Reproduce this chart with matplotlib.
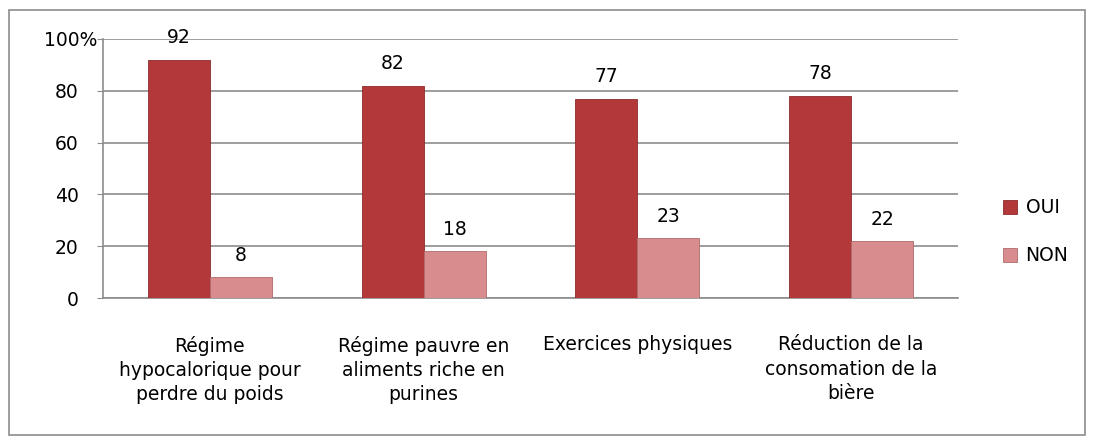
import numpy as np
import matplotlib
matplotlib.use("Agg")
import matplotlib.pyplot as plt
import matplotlib.transforms as mtransforms
from matplotlib.patches import Rectangle

categories = ["Régime\nhypocalorique pour\nperdre du poids",
              "Régime pauvre en\naliments riche en\npurines",
              "Exercices physiques",
              "Réduction de la\nconsomation de la\nbière"]
oui = [92, 82, 77, 78]
non = [8, 18, 23, 22]
series_names = ["OUI", "NON"]
yticks = [0, 20, 40, 60, 80, 100]
ytick_labels = ["0", "20", "40", "60", "80", "100%"]

plt.rcParams['font.family'] = ['DejaVu Sans']
fs = 13.5

fig = plt.figure(figsize=(10.93, 4.42), dpi=100)
# outer chart border
fig.patches.append(Rectangle((9/1093, 7/442), 1076/1093, 425/442, transform=fig.transFigure,
                             fill=False, edgecolor="#8c8c8c", lw=1.2))

ax = fig.add_axes([103/1093, (442-298)/442, (958-103)/1093, (298-39)/442])
x = np.arange(len(categories))
w = 0.29
c_oui = "#b3383a"
c_non = "#d98c8e"
b1 = ax.bar(x - w/2, oui, w, color=c_oui, edgecolor="#8e2a2c", lw=0.6, label=series_names[0], zorder=3)
b2 = ax.bar(x + w/2, non, w, color=c_non, edgecolor="#b06a6c", lw=0.6, label=series_names[1], zorder=3)

for bars, vals in ((b1, oui), (b2, non)):
    for r, v in zip(bars, vals):
        ax.annotate(str(v), (r.get_x() + r.get_width()/2, v), xytext=(0, 9),
                    textcoords="offset points", ha="center", va="bottom", fontsize=fs)

ax.set_xlim(-0.5, len(categories) - 0.5)
ax.set_ylim(0, 100)
ax.set_yticks(yticks)
ax.set_yticklabels(ytick_labels, fontsize=fs)
ax.yaxis.grid(True, color="#8c8c8c", lw=1.2, zorder=0)
ax.set_xticks(x)
ax.set_xticklabels(categories, fontsize=fs, linespacing=1.35, va="top")
ax.tick_params(axis="x", length=0, pad=27)
ax.tick_params(axis="y", length=4.5, color="#8c8c8c", pad=13)
# the "100%" label sticks out to the right like in the original
top_lbl = ax.get_yticklabels()[-1]
top_lbl.set_transform(top_lbl.get_transform() +
                      mtransforms.ScaledTranslation(19/100, 0, fig.dpi_scale_trans))
for s in ["top", "right"]:
    ax.spines[s].set_visible(False)
ax.spines["left"].set_color("#8c8c8c")
ax.spines["bottom"].set_color("#8c8c8c")
ax.spines["left"].set_linewidth(1.2)
ax.spines["bottom"].set_linewidth(1.2)

ax.legend(loc="center left", bbox_to_anchor=(1.033, 0.255), frameon=False, fontsize=fs,
          handlelength=0.75, handleheight=0.75, labelspacing=1.55, handletextpad=0.45)

fig.savefig("out.png", dpi=100)
